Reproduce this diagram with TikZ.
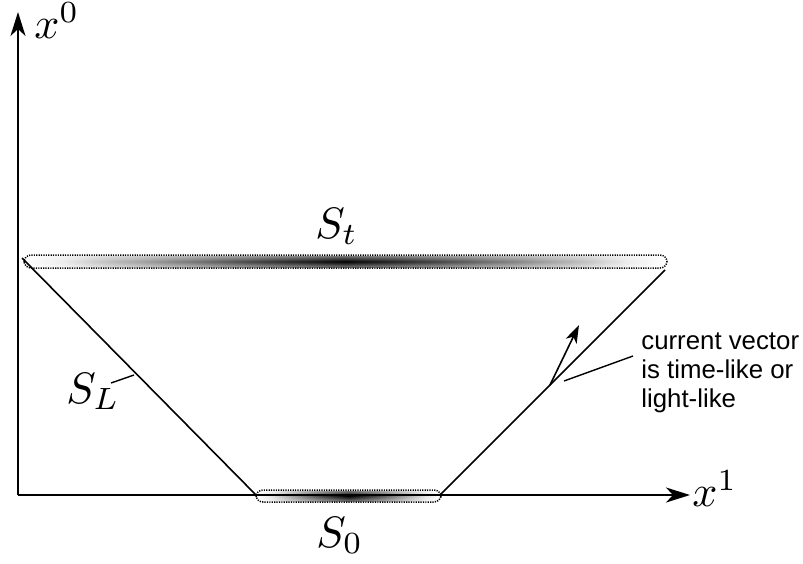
\documentclass[tikz,border=0pt]{standalone}
\usepackage{fontspec}
\newfontfamily\labelfont{Liberation Sans}
\usetikzlibrary{arrows.meta,fadings}
\pgfdeclarehorizontalshading{bandshade}{100bp}{%
  rgb(0bp)=(1,1,1); rgb(25bp)=(1,1,1); rgb(28bp)=(0.92,0.92,0.92);
  rgb(32bp)=(0.72,0.72,0.72); rgb(37.5bp)=(0.48,0.48,0.48);
  rgb(43.75bp)=(0.22,0.22,0.22); rgb(50bp)=(0,0,0);
  rgb(56.25bp)=(0.22,0.22,0.22); rgb(62.5bp)=(0.48,0.48,0.48);
  rgb(68bp)=(0.72,0.72,0.72); rgb(72bp)=(0.92,0.92,0.92);
  rgb(75bp)=(1,1,1); rgb(100bp)=(1,1,1)}
\pgfdeclarehorizontalshading{bandshadeb}{100bp}{%
  rgb(0bp)=(1,1,1); rgb(25bp)=(1,1,1); rgb(29bp)=(0.9,0.9,0.9);
  rgb(35bp)=(0.62,0.62,0.62); rgb(42bp)=(0.3,0.3,0.3); rgb(50bp)=(0,0,0);
  rgb(58bp)=(0.3,0.3,0.3); rgb(65bp)=(0.62,0.62,0.62);
  rgb(71bp)=(0.9,0.9,0.9); rgb(75bp)=(1,1,1); rgb(100bp)=(1,1,1)}
\tikzfading[name=tube, top color=transparent!45, bottom color=transparent!45, middle color=transparent!0]
\newcommand{\bigmathlbl}[1]{\scalebox{2.2}{$#1$}}
\tikzset{
  axis/.style={line width=1pt, -{Stealth[length=12pt,width=7.5pt,inset=3.5pt]}},
  cone/.style={line width=0.8pt},
  leader/.style={line width=0.7pt},
  vec/.style={line width=0.8pt, -{Stealth[length=9pt,width=6pt,inset=2.5pt]}},
  band/.style={dash pattern=on 0.6pt off 0.6pt, line width=0.75pt, rounded corners=3.5pt},
  mathlbl/.style={inner sep=0pt, anchor=base west},
  txt/.style={inner sep=0pt, anchor=north west, align=left,
    font=\labelfont\fontsize{12.9}{14.6}\selectfont}
}
\begin{document}
\begin{tikzpicture}[x=0.5pt,y=-0.5pt]
\useasboundingbox (0,0) rectangle (803,563);
% coordinates
\coordinate (O) at (18,495);
\coordinate (ytop) at (18,12);
\coordinate (xend) at (690,495);
\coordinate (tl) at (22,258);
\coordinate (bl) at (256,495);
\coordinate (br) at (440,495);
\coordinate (tr) at (665,270);
% bands
\shade[shading=bandshade, path fading=tube] (25,256) rectangle (666,267);
\draw[band] (24,255) rectangle (667,268);
\shade[shading=bandshadeb, path fading=tube] (257,491) rectangle (440,501);
% axes
\draw[axis] (O) -- (ytop);
\draw[axis] (O) -- (xend);
\draw[band] (256,490) rectangle (441,502);
% cone
\draw[cone] (tl) -- (bl);
\draw[cone] (br) -- (tr);
% labels
\node[mathlbl] (x0) at (34,38) {\bigmathlbl{x^0}};
\node[mathlbl] (x1) at (692,506) {\bigmathlbl{x^1}};
\node[mathlbl] (St) at (315,238) {\bigmathlbl{S_t}};
\node[mathlbl] (S0) at (316,547) {\bigmathlbl{S_0}};
\node[mathlbl] (SL) at (66,403) {\bigmathlbl{S_L}};
\coordinate (sla) at (111,383);
\coordinate (slb) at (134,375);
\draw[leader] (sla) -- (slb);
% current vector
\coordinate (va) at (550,385);
\coordinate (vb) at (579,325);
\draw[vec] (va) -- (vb);
\coordinate (la) at (564,381);
\coordinate (lb) at (633,356);
\draw[leader] (la) -- (lb);
\node[txt] (cv) at (641,332) {current vector\\is time-like or\\light-like};
\end{tikzpicture}
\end{document}
